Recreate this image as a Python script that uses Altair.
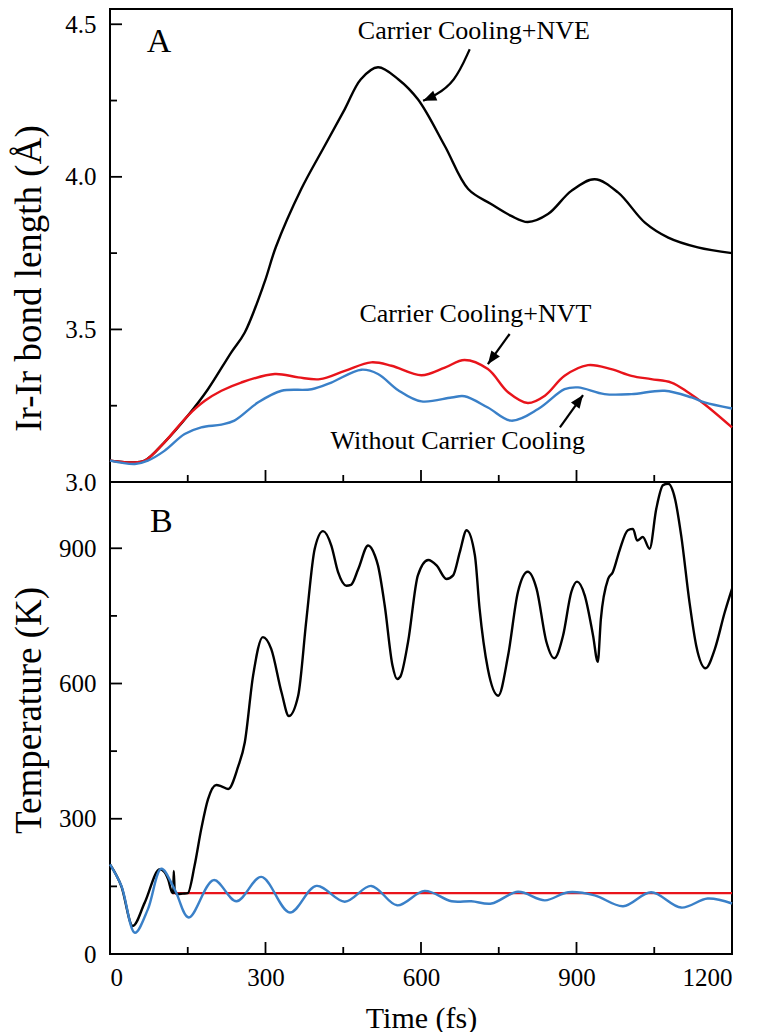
import altair as alt
import pandas as pd

# ---------------- Panel A: Ir-Ir bond length (Å) ----------------
nve_t = [0, 41, 67, 105, 150, 189, 234, 260, 298, 320, 369, 414, 453, 484, 517, 556, 594,
         646, 691, 736, 774, 806, 845, 890, 935, 980, 1032, 1077, 1134, 1200]
nve_d = [3.070, 3.064, 3.070, 3.130, 3.217, 3.304, 3.425, 3.490, 3.654, 3.770, 3.960, 4.101,
         4.222, 4.320, 4.359, 4.320, 4.254, 4.101, 3.960, 3.910, 3.872, 3.852, 3.878, 3.954,
         3.992, 3.949, 3.850, 3.801, 3.769, 3.750]

nvt_t = [0, 41, 67, 105, 150, 183, 215, 253, 318, 363, 405, 453, 504, 543, 601, 646, 684,
         729, 768, 806, 839, 877, 922, 967, 1006, 1044, 1083, 1115, 1147, 1200]
nvt_d = [3.070, 3.064, 3.070, 3.130, 3.217, 3.266, 3.299, 3.326, 3.354, 3.343, 3.337, 3.364,
         3.392, 3.381, 3.350, 3.375, 3.400, 3.370, 3.294, 3.259, 3.283, 3.348, 3.383, 3.370,
         3.348, 3.337, 3.326, 3.294, 3.255, 3.179]

wo_t = [0, 48, 73, 105, 144, 176, 215, 240, 286, 331, 389, 427, 485, 517, 556, 601, 659,
        684, 729, 774, 826, 877, 903, 954, 1006, 1070, 1122, 1147, 1200]
wo_d = [3.070, 3.059, 3.070, 3.102, 3.157, 3.179, 3.188, 3.201, 3.261, 3.299, 3.304, 3.326,
        3.368, 3.354, 3.301, 3.264, 3.277, 3.281, 3.244, 3.201, 3.239, 3.304, 3.310, 3.288,
        3.288, 3.299, 3.277, 3.261, 3.241]

# ---------------- Panel B: Temperature (K) ----------------
nveT_t = [0, 22, 44, 67, 96, 105, 112, 120, 122, 123, 125, 131, 140, 150, 163, 176, 189, 205,
          215, 228, 247, 260, 276, 295, 311, 331, 345, 363, 379, 395, 411, 427, 440, 456, 465,
          479, 498, 511, 517, 530, 545, 554, 560, 575, 594, 614, 630, 649, 662, 675, 688, 704,
          713, 729, 749, 768, 787, 806, 823, 842, 857, 874, 890, 901, 916, 932, 941, 947, 961,
          970, 983, 999, 1009, 1017, 1028, 1041, 1054, 1067, 1077, 1090, 1102, 1118, 1131,
          1149, 1167, 1186, 1200]
nveT_v = [199, 150, 62, 114, 188, 182, 166, 136, 135, 184, 136, 133, 134, 135, 195, 277, 343,
          375, 372, 366, 415, 469, 617, 703, 677, 580, 528, 573, 743, 899, 938, 906, 847, 817,
          819, 854, 906, 884, 862, 773, 640, 610, 615, 692, 840, 874, 862, 832, 840, 892, 940,
          884, 766, 632, 573, 662, 803, 848, 810, 692, 656, 706, 803, 826, 795, 706, 648, 743,
          832, 847, 895, 940, 943, 917, 925, 899, 988, 1040, 1043, 1010, 928, 780, 684, 634,
          677, 758, 810]

nvtT_t = [120, 1200]
nvtT_v = [135, 135]

woT_t = [0, 22, 48, 73, 99, 125, 152, 200, 244, 292, 347, 398, 453, 504, 554, 607, 659, 697,
         736, 787, 839, 884, 935, 990, 1044, 1102, 1153, 1200]
woT_v = [199, 151, 47, 99, 189, 143, 81, 164, 117, 171, 92, 151, 116, 151, 108, 140, 117,
         117, 112, 138, 119, 137, 130, 106, 137, 103, 123, 112]

# ---------------- Annotations ----------------
ann_text = ["Carrier Cooling+NVE", "Carrier Cooling+NVT", "Without Carrier Cooling"]
ann_x = [702, 705, 671]
ann_y = [4.451, 3.524, 3.108]

arrow_nve_t = [604, 626, 665, 694]
arrow_nve_d = [4.249, 4.265, 4.309, 4.418]
arrow_nvt_t = [729, 771]
arrow_nvt_d = [3.386, 3.485]
arrow_wo_t = [868, 912.6]
arrow_wo_d = [3.179, 3.285]
head_t = [604, 729, 912.6]
head_d = [4.249, 3.386, 3.285]
head_angle = [247, 216, 36]

panel_labels = ["A", "B"]
panel_x = [71, 77]
panel_y = [4.408, 937]

x_major = [0, 300, 600, 900, 1200]
x_minor = [150, 450, 750, 1050]
yA_major = [3.0, 3.5, 4.0, 4.5]
yA_minor = [3.25, 3.75, 4.25]
yB_major = [0, 300, 600, 900]
yB_minor = [150, 450, 750]

FONT = "Liberation Serif"
BLACK = "#000000"
RED = "#e8141b"
BLUE = "#3a80c8"

W = 622
HA = 473
HB = 472
MAJ = 12
MIN = 7

xsc = alt.Scale(domain=[0, 1200], nice=False)
ysA = alt.Scale(domain=[3.0, 4.55], nice=False, zero=False)
ysB = alt.Scale(domain=[0, 1047], nice=False)

xA = alt.X("t:Q", scale=xsc, axis=None)
xB = alt.X("t:Q", scale=xsc,
           axis=alt.Axis(values=x_major, format="d", title="Time (fs)", domain=False,
                         ticks=False, labelPadding=11, titlePadding=13, titleFontSize=30))
yA = alt.Y("v:Q", scale=ysA,
           axis=alt.Axis(values=yA_major, format=".1f", title="Ir-Ir bond length (Å)",
                         domain=False, ticks=False, labelPadding=14, labelAlign="right",
                         labelBaseline="middle",
                         titleX=-81, titleY=269, titleBaseline="middle"))
yB = alt.Y("v:Q", scale=ysB,
           axis=alt.Axis(values=yB_major, format="d", title="Temperature (K)",
                         domain=False, ticks=False, labelPadding=14, labelAlign="right",
                         labelBaseline="middle",
                         titleX=-81, titleY=228, titleBaseline="middle"))


def line(ts, vs, color, x, y, width=2.4, interp="monotone"):
    df = pd.DataFrame({"t": ts, "v": vs})
    return alt.Chart(df).mark_line(color=color, strokeWidth=width,
                                   interpolate=interp).encode(x=x, y=y)


def xticks(vals, length, h, xenc):
    df = pd.DataFrame({"t": vals})
    return alt.Chart(df).mark_rule(color=BLACK, strokeWidth=1.8).encode(
        x=xenc, y=alt.value(h), y2=alt.value(h - length))


def yticks(vals, length, yenc):
    df = pd.DataFrame({"v": vals})
    return alt.Chart(df).mark_rule(color=BLACK, strokeWidth=1.8).encode(
        y=yenc, x=alt.value(0), x2=alt.value(length))


# Panel A
linesA = [line(nve_t, nve_d, BLACK, xA, yA, interp="catmull-rom"),
          line(nvt_t, nvt_d, RED, xA, yA, interp="catmull-rom"),
          line(wo_t, wo_d, BLUE, xA, yA, interp="catmull-rom")]

ann_df = pd.DataFrame({"t": ann_x, "v": ann_y, "txt": ann_text})
ann = alt.Chart(ann_df).mark_text(font=FONT, fontSize=26, color=BLACK, align="center",
                                  baseline="alphabetic").encode(x=xA, y=yA, text="txt:N")

arrows = [
    line(arrow_nve_t, arrow_nve_d, BLACK, xA, yA, 2.2, "basis"),
    line(arrow_nvt_t, arrow_nvt_d, BLACK, xA, yA, 2.2, "linear"),
    line(arrow_wo_t, arrow_wo_d, BLACK, xA, yA, 2.2, "linear"),
]
head_df = pd.DataFrame({"t": head_t, "v": head_d, "a": head_angle})
heads = alt.Chart(head_df).mark_point(shape="M0,0 L-0.4,1 L0.4,1 Z", filled=True,
                                      color=BLACK, opacity=1, size=700, strokeWidth=0).encode(
    x=xA, y=yA, angle=alt.Angle("a:Q", scale=None))

labA = alt.Chart(pd.DataFrame({"t": [panel_x[0]], "v": [panel_y[0]], "txt": [panel_labels[0]]})
                 ).mark_text(font=FONT, fontSize=34, color=BLACK, align="left",
                             baseline="alphabetic").encode(x=xA, y=yA, text="txt:N")

ticksA = [xticks(x_major, MAJ, HA, xA), xticks(x_minor, MIN, HA, xA),
          yticks(yA_major, MAJ, yA), yticks(yA_minor, MIN, yA)]

panelA = alt.layer(*linesA, ann, *arrows, heads, labA, *ticksA).properties(width=W, height=HA)

# Panel B
linesB = [line(nvtT_t, nvtT_v, RED, xB, yB), line(nveT_t, nveT_v, BLACK, xB, yB),
          line(woT_t, woT_v, BLUE, xB, yB, interp="catmull-rom")]
labB = alt.Chart(pd.DataFrame({"t": [panel_x[1]], "v": [panel_y[1]], "txt": [panel_labels[1]]})
                 ).mark_text(font=FONT, fontSize=34, color=BLACK, align="left",
                             baseline="alphabetic").encode(x=xB, y=yB, text="txt:N")
ticksB = [xticks(x_major, MAJ, HB, xB), xticks(x_minor, MIN, HB, xB),
          yticks(yB_major, MAJ, yB), yticks(yB_minor, MIN, yB)]
panelB = alt.layer(*linesB, labB, *ticksB).properties(width=W, height=HB)

chart = alt.vconcat(panelA, panelB, spacing=0, bounds="flush").properties(
    padding={"left": 0, "top": 0, "right": 10, "bottom": 0}
).configure(font=FONT).configure_view(
    stroke=BLACK, strokeWidth=2
).configure_axis(
    labelFont=FONT, titleFont=FONT, labelFontSize=25, titleFontSize=37,
    labelColor=BLACK, titleColor=BLACK, titleFontWeight="normal", grid=False
)

chart.save("out.html", embed_options={"renderer": "svg", "actions": False})
